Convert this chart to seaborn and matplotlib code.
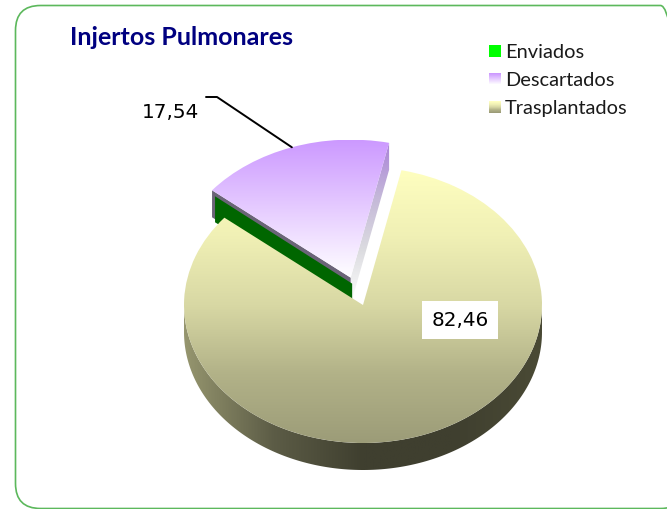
import numpy as np
import seaborn as sns
import matplotlib.pyplot as plt
from matplotlib.legend_handler import HandlerPatch
from matplotlib.patches import FancyBboxPatch, Patch, Polygon, Rectangle

# Datos
categorias = ["Trasplantados", "Enviados", "Descartados"]
valores = [82.46, 0, 17.54]
orden_leyenda = ["Enviados", "Descartados", "Trasplantados"]
titulo = "Injertos Pulmonares"

W, H = 667, 509
CX, CY, RX, RY = 363, 305, 179, 138
PROF = 27 / RY

sns.set_theme(style="white")
plt.rcParams["font.family"] = ["Lato", "DejaVu Sans"]

g_main = sns.blend_palette(["#ffffc0", "#f0f0b5", "#d8d8a4", "#b2b288", "#9c9c78"], as_cmap=True)
g_morado = sns.blend_palette(["#cc99ff", "#e6ccff", "#ffffff"], as_cmap=True)
g_pared = sns.blend_palette(["#96966f", "#5c5c46", "#3f3f2f", "#3f3f2f", "#4a4a35"], as_cmap=True)
g_corte = sns.blend_palette(["#ab84d8", "#c4b8d8", "#dcdce0", "#ffffff"], as_cmap=True)


def px(x, y):
    return (x - CX) / RX, (CY - y) / RY


def degradado(ax, cmap, extent, clip, z, vertical=True):
    g = np.linspace(0, 1, 256)
    g = g[:, None] if vertical else g[None, :]
    im = ax.imshow(g, cmap=cmap, extent=extent, aspect="auto", origin="upper", zorder=z, vmin=0, vmax=1)
    im.set_clip_path(clip)
    return im


class HandlerDegradado(HandlerPatch):
    def __init__(self, cmap):
        super().__init__()
        self.cmap = cmap

    def create_artists(self, legend, orig, xd, yd, width, height, fontsize, trans):
        n = 12
        res = []
        for i in range(n):
            res.append(Rectangle((-xd, -yd + height * (1 - (i + 1) / n)), width, height / n,
                                 facecolor=self.cmap(i / (n - 1)), edgecolor="none", transform=trans))
        return res


fig = plt.figure(figsize=(W / 100, H / 100), dpi=100)
ax = fig.add_axes([0, 0, 1, 1])

wedges, _ = ax.pie(valores, explode=[0, 0.21, 0.21], startangle=77.6, counterclock=False,
                   wedgeprops={"facecolor": "none", "edgecolor": "none"})
w_main, w_env, w_desc = wedges
ax.set_aspect("auto")
ax.set_xlim(px(0, 0)[0], px(W, 0)[0])
ax.set_ylim(px(0, H)[1], px(0, 0)[1])
ax.axis("off")

# pared inferior del pastel principal
t = np.radians(np.linspace(180, 360, 200))
arco_x, arco_y = np.cos(t), np.sin(t)
pared = Polygon(np.r_[np.c_[arco_x, arco_y], np.c_[arco_x[::-1], arco_y[::-1] - PROF]],
                transform=ax.transData, facecolor="none", edgecolor="none")
ax.add_patch(pared)
degradado(ax, g_pared, (-1, 1, -1 - PROF, 0), pared, 2, vertical=False)

# sector separado: caras de corte
c0 = np.array(w_desc.center)
ang1, ang2 = np.radians(w_desc.theta1), np.radians(w_desc.theta2)
p_der = c0 + [np.cos(ang1), np.sin(ang1)]
p_izq = c0 + [np.cos(ang2), np.sin(ang2)]

corte_der = Polygon([c0, p_der, p_der - [0, PROF], c0 - [0, PROF]], transform=ax.transData,
                    facecolor="none", edgecolor="none")
ax.add_patch(corte_der)
degradado(ax, g_corte, (c0[0], p_der[0], c0[1] - PROF, p_der[1]), corte_der, 3)

ax.add_patch(Polygon([c0, p_izq, p_izq - [0, PROF], c0 - [0, PROF]], transform=ax.transData,
                     facecolor="#6b6478", edgecolor="none", zorder=3))

# sector de valor cero: solo se ve su cara verde
ang_env = np.radians(w_env.theta1)
dx, dy = 3 / RX, 6 / RY
c_env = c0 + [dx * 0.5, -dy]
p_env = c0 + [np.cos(ang_env) + dx, np.sin(ang_env) - dy]
ax.add_patch(Polygon([c_env, p_env, p_env - [0, PROF - dy + 5 / RY], c_env - [0, PROF - dy]],
                     transform=ax.transData, facecolor="#006600", edgecolor="none", zorder=4))

# superficies
degradado(ax, g_morado, (c0[0] - 1, c0[0] + 1, c0[1], c0[1] + 1), w_desc, 5)
degradado(ax, g_main, (-1, 1, -1, 1), w_main, 6)

# etiquetas
etq = [f"{v:.2f}".replace(".", ",") for v in valores]
xt, yt = px(460, 320)
ax.text(xt, yt, etq[0], family="DejaVu Sans", fontsize=14.4, color="black", ha="center", va="center", zorder=8,
        bbox=dict(boxstyle="square,pad=0.47", facecolor="white", edgecolor="none"))
xt, yt = px(170, 112)
ax.text(xt, yt, etq[2], family="DejaVu Sans", fontsize=14.4, color="black", ha="center", va="center", zorder=8)

medio = np.radians((w_desc.theta1 + w_desc.theta2) / 2)
ancla = c0 + [np.cos(medio), np.sin(medio)]
codo = px(217, 97)
fin = px(206, 97)
ax.plot([fin[0], codo[0], ancla[0]], [fin[1], codo[1], ancla[1]], color="black", lw=1.4, zorder=8)

# titulo
xt, yt = px(70, 37.5)
ax.text(xt, yt, titulo, fontsize=18, fontweight="bold", color="#000080", ha="left", va="center", zorder=8)

# leyenda
h_env = Patch(facecolor="#00ff00", edgecolor="none")
h_desc = Patch(facecolor="#cc99ff", edgecolor="none")
h_tras = Patch(facecolor="#ffffc0", edgecolor="none")
leg = ax.legend([h_env, h_desc, h_tras], orden_leyenda, loc="upper left",
                bbox_to_anchor=(489 / W, 1 - 44 / H), frameon=False, fontsize=14.4,
                handlelength=0.6, handleheight=0.6, handletextpad=0.2, labelspacing=0.55,
                borderpad=0, borderaxespad=0,
                handler_map={h_desc: HandlerDegradado(g_morado), h_tras: HandlerDegradado(g_main)})
for txt in leg.get_texts():
    txt.set_color("#1a1a1a")

# marco
fig.add_artist(FancyBboxPatch((15.5 / W, 1 - 508.5 / H), 670 / W, 503 / H,
                              boxstyle="round,pad=0,rounding_size=0.0375", mutation_aspect=W / H,
                              transform=fig.transFigure, facecolor="none", edgecolor="#5cb85c", lw=1.2))

fig.savefig("out.png", dpi=100)
